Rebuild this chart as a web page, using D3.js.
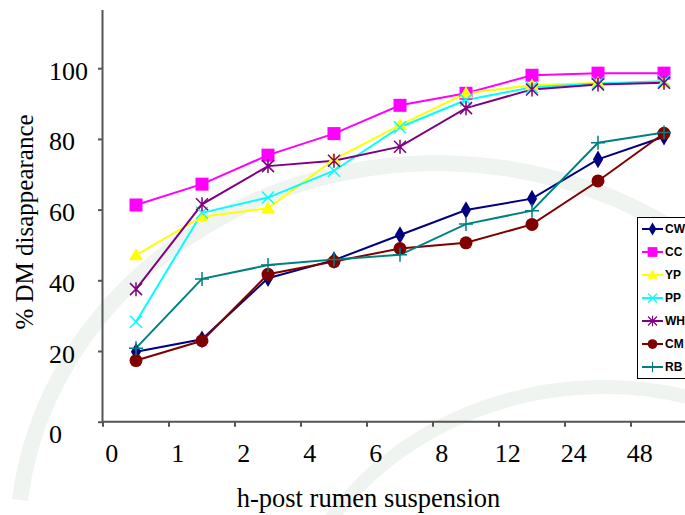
<!DOCTYPE html>
<html>
<head>
<meta charset="utf-8">
<script src="https://cdnjs.cloudflare.com/ajax/libs/d3/7.8.5/d3.min.js"></script>
<style>
  body { margin: 0; background: #fff; }
  svg { display: block; }
</style>
</head>
<body>
<div id="chart-area"></div>
<script>
// categories (hours) and series values
var hours = ["0", "1", "2", "4", "6", "8", "12", "24", "48"];
var yTicks = [0, 20, 40, 60, 80, 100];

var seriesNames = ["CW", "CC", "YP", "PP", "WH", "CM", "RB"];
var cw = [19.8, 23.3, 40.6, 45.7, 52.8, 59.9, 63.1, 74.2, 80.6];
var cc = [61.3, 67.2, 75.4, 81.5, 89.5, 92.9, 98.0, 98.6, 98.6];
var yp = [47.1, 58.0, 60.4, 74.2, 83.9, 92.9, 95.2, 95.9, 95.9];
var pp = [28.3, 59.1, 63.4, 71.0, 83.3, 91.0, 94.6, 95.7, 96.3];
var wh = [37.5, 61.5, 72.3, 73.8, 77.8, 88.7, 94.0, 95.4, 95.9];
var cm = [17.3, 22.9, 41.7, 45.3, 49.0, 50.6, 55.8, 68.1, 81.6];
var rb = [20.8, 40.4, 44.3, 45.9, 47.2, 55.9, 59.7, 78.9, 81.8];

var colors = ["#000080", "#ff00ff", "#ffff00", "#00ffff", "#800080", "#800000", "#008080"];
var markers = ["diamond", "square", "triangle", "cross", "star", "circle", "plus"];

var series = [cw, cc, yp, pp, wh, cm, rb].map(function(v, i) {
  return {name: seriesNames[i], values: v, color: colors[i], marker: markers[i]};
});

var serif = "'Liberation Serif', 'Times New Roman', serif";
var sans = "'Liberation Sans', Arial, sans-serif";

var W = 685, H = 515;
var svg = d3.select("#chart-area").append("svg")
    .attr("width", W)
    .attr("height", H);

// faint watermark arcs behind the chart
var wm = svg.append("g").attr("class", "watermark")
    .attr("fill", "none")
    .attr("stroke", "#f0f4f0");
wm.append("path")
    .attr("d", "M 20 500 A 420 380 0 0 1 760 300")
    .attr("stroke-width", 16);
wm.append("path")
    .attr("d", "M 330 520 A 330 300 0 0 1 700 400")
    .attr("stroke-width", 14);

// scales
var x = d3.scaleBand()
    .domain(hours)
    .range([103, 697]);

var y = d3.scaleLinear()
    .domain([0, 100])
    .range([421.7, 68.2]);

// axes
var yAxis = d3.axisLeft(y).tickValues(yTicks).tickSize(5).tickFormat("");
svg.append("g")
    .attr("class", "y-axis")
    .attr("transform", "translate(103,0)")
    .call(yAxis)
    .call(function(g) {
      g.select(".domain").attr("d", "M-0.5,10V421.7");
    });

var xAxis = d3.axisBottom(x).tickSize(5).tickFormat("").tickSizeOuter(0);
svg.append("g")
    .attr("class", "x-axis")
    .attr("transform", "translate(0,421.7)")
    .call(xAxis)
    .call(function(g) {
      g.selectAll(".tick line").attr("transform", "translate(" + (-x.bandwidth() / 2) + ",0)");
      g.select(".domain").attr("d", "M103,0H697");
    });

svg.selectAll(".domain, .tick line")
    .attr("stroke", "#555")
    .attr("stroke-width", 2);

// y tick labels (left aligned, as in the original)
svg.append("g").selectAll("text")
    .data(yTicks)
    .enter().append("text")
    .attr("x", 49)
    .attr("y", function(d) { return d === 0 ? y(d) + 21 : y(d) + 11.5; })
    .style("font-family", serif)
    .style("font-size", "26px")
    .text(function(d) { return d; });

// x tick labels
svg.append("g").selectAll("text")
    .data(hours)
    .enter().append("text")
    .attr("x", function(d) { return x(d) + x.bandwidth() / 2 - 24.3; })
    .attr("y", 462)
    .attr("text-anchor", "middle")
    .style("font-family", serif)
    .style("font-size", "26px")
    .text(function(d) { return d; });

// axis titles
svg.append("text")
    .attr("x", 368.5)
    .attr("y", 507)
    .attr("text-anchor", "middle")
    .style("font-family", serif)
    .style("font-size", "26.5px")
    .text("h-post rumen suspension");

svg.append("text")
    .attr("transform", "translate(33,222) rotate(-90)")
    .attr("text-anchor", "middle")
    .style("font-family", serif)
    .style("font-size", "25px")
    .text("% DM disappearance");

// marker drawing
function drawMarker(g, type, color) {
  if (type === "diamond") {
    g.append("path").attr("d", d3.symbol(d3.symbolDiamond, 90)()).attr("fill", color);
  } else if (type === "square") {
    g.append("rect").attr("x", -6.5).attr("y", -6.5).attr("width", 13).attr("height", 13).attr("fill", color);
  } else if (type === "triangle") {
    g.append("path").attr("d", "M0,-7L7,5L-7,5Z").attr("fill", color);
  } else if (type === "circle") {
    g.append("circle").attr("r", 6.5).attr("fill", color);
  } else if (type === "cross") {
    g.append("path").attr("d", "M-6,-6L6,6M-6,6L6,-6").attr("stroke", color).attr("stroke-width", 1.5);
  } else if (type === "star") {
    g.append("path").attr("d", "M-6,-6L6,6M-6,6L6,-6M0,-7V7").attr("stroke", color).attr("stroke-width", 1.5);
  } else if (type === "plus") {
    g.append("path").attr("d", "M-7,0H7M0,-7V7").attr("stroke", color).attr("stroke-width", 1.5);
  }
}

var line = d3.line()
    .x(function(d, i) { return x(hours[i]) + x.bandwidth() / 2; })
    .y(function(d) { return y(d); });

var lines = svg.append("g").attr("class", "series");
series.forEach(function(s) {
  lines.append("path")
      .datum(s.values)
      .attr("fill", "none")
      .attr("stroke", s.color)
      .attr("stroke-width", 2)
      .attr("d", line);
});
series.forEach(function(s) {
  s.values.forEach(function(v, i) {
    var g = lines.append("g")
        .attr("transform", "translate(" + (x(hours[i]) + x.bandwidth() / 2) + "," + y(v) + ")");
    drawMarker(g, s.marker, s.color);
  });
});

// legend
var legend = svg.append("g").attr("transform", "translate(637,217)");
legend.append("rect")
    .attr("x", 0.5).attr("y", 0.5)
    .attr("width", 80).attr("height", 161)
    .attr("fill", "#fff")
    .attr("stroke", "#000")
    .attr("stroke-width", 1);

var items = legend.selectAll(".item")
    .data(series)
    .enter().append("g")
    .attr("class", "item")
    .attr("transform", function(d, i) { return "translate(0," + (12 + i * 23) + ")"; });

items.append("line")
    .attr("x1", 5).attr("x2", 26)
    .attr("stroke", function(d) { return d.color; })
    .attr("stroke-width", 2);

items.each(function(d) {
  var g = d3.select(this).append("g")
      .attr("transform", "translate(15.5,0) scale(0.75)");
  drawMarker(g, d.marker, d.color);
});

items.append("text")
    .attr("x", 28)
    .attr("dy", "0.36em")
    .style("font-family", sans)
    .style("font-weight", "bold")
    .style("font-size", "12px")
    .text(function(d) { return d.name; });
</script>
</body>
</html>
